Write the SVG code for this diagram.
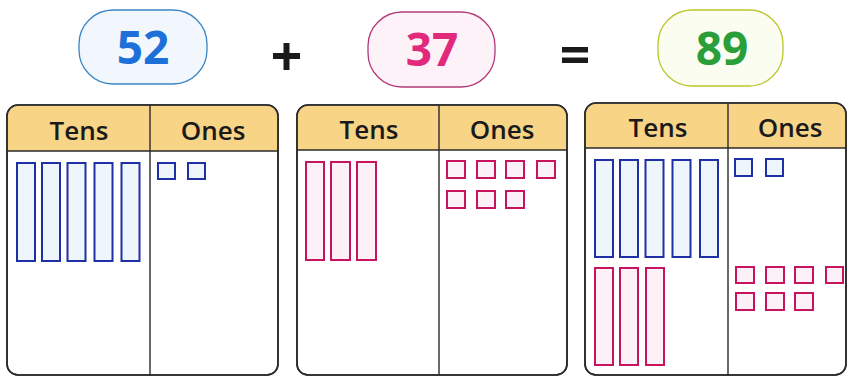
<svg xmlns="http://www.w3.org/2000/svg" width="847" height="377" viewBox="0 0 847 377">
  <style>
    .num { font-family: "Open Sans", "Noto Sans", sans-serif; font-weight: 700; font-size: 46px; text-anchor: middle; }
    .op { fill: #1a1a1a; }
    .hdr { font-family: "Open Sans", "Noto Sans", sans-serif; font-weight: 600; font-size: 26px; fill: #1a1a1a; text-anchor: middle; }
    .frame { fill: #ffffff; stroke: #2a2a2a; stroke-width: 1.6; }
    .head { fill: #f7d486; }
    .line { stroke: #2a2a2a; stroke-width: 1.4; fill: none; }
    .rod-b { fill: #eef6fc; stroke: #1f2fa6; stroke-width: 2; }
    .rod-p { fill: #fcf1f7; stroke: #c8145e; stroke-width: 2; }
  </style>

  <!-- number bubbles -->
  <g id="n52">
    <rect x="79" y="10" width="128" height="74" rx="34" fill="#f1f7fc" stroke="#3b86c4" stroke-width="1.3"/>
    <text class="num" x="143" y="64" fill="#1c70d8">52</text>
  </g>
  <g id="plus">
    <rect class="op" x="273" y="53" width="27" height="6"/>
    <rect class="op" x="283.5" y="43" width="6" height="27"/>
  </g>
  <g id="n37">
    <rect x="368" y="12" width="127" height="75" rx="34" fill="#fcf2f8" stroke="#b23a78" stroke-width="1.3"/>
    <text class="num" x="432" y="66" fill="#e22a7c">37</text>
  </g>
  <g id="equals">
    <rect class="op" x="562" y="47" width="26" height="5.5"/>
    <rect class="op" x="562" y="57.5" width="26" height="5.5"/>
  </g>
  <g id="n89">
    <rect x="658" y="10" width="125" height="76" rx="34" fill="#fbfdf1" stroke="#bcc62e" stroke-width="1.3"/>
    <text class="num" x="722" y="65" fill="#2a9e38">89</text>
  </g>

  <!-- place-value chart: 52 -->
  <g id="chart1">
    <rect class="frame" x="7" y="105" width="271" height="270" rx="11"/>
    <path class="head" d="M18,105.8 H267 A10.2,10.2 0 0 1 277.2,116 V151 H7.8 V116 A10.2,10.2 0 0 1 18,105.8 Z"/>
    <rect x="7" y="105" width="271" height="270" rx="11" fill="none" stroke="#2a2a2a" stroke-width="1.6"/>
    <line class="line" x1="7" y1="151" x2="278" y2="151"/>
    <line class="line" x1="150" y1="105" x2="150" y2="375"/>
    <text class="hdr" x="79" y="140">Tens</text>
    <text class="hdr" x="213" y="140">Ones</text>
    <rect class="rod-b" x="17" y="163" width="18" height="98"/>
    <rect class="rod-b" x="42" y="163" width="18" height="98"/>
    <rect class="rod-b" x="67.5" y="163" width="18" height="98"/>
    <rect class="rod-b" x="94.5" y="163" width="18" height="98"/>
    <rect class="rod-b" x="121.5" y="163" width="18" height="98"/>
    <rect class="rod-b" x="158" y="163" width="17" height="16"/>
    <rect class="rod-b" x="188" y="163" width="17" height="16"/>
  </g>

  <!-- place-value chart: 37 -->
  <g id="chart2">
    <rect class="frame" x="297" y="105" width="270" height="270" rx="11"/>
    <path class="head" d="M308,105.8 H556 A10.2,10.2 0 0 1 566.2,116 V150 H297.8 V116 A10.2,10.2 0 0 1 308,105.8 Z"/>
    <rect x="297" y="105" width="270" height="270" rx="11" fill="none" stroke="#2a2a2a" stroke-width="1.6"/>
    <line class="line" x1="297" y1="150" x2="567" y2="150"/>
    <line class="line" x1="439" y1="105" x2="439" y2="375"/>
    <text class="hdr" x="369" y="139">Tens</text>
    <text class="hdr" x="502" y="139">Ones</text>
    <rect class="rod-p" x="306" y="162" width="18" height="98"/>
    <rect class="rod-p" x="331" y="162" width="19" height="98"/>
    <rect class="rod-p" x="357" y="162" width="19" height="98"/>
    <rect class="rod-p" x="447" y="161" width="18" height="17"/>
    <rect class="rod-p" x="477" y="161" width="18" height="17"/>
    <rect class="rod-p" x="506" y="161" width="18" height="17"/>
    <rect class="rod-p" x="537" y="161" width="18" height="17"/>
    <rect class="rod-p" x="447" y="191" width="18" height="17"/>
    <rect class="rod-p" x="477" y="191" width="18" height="17"/>
    <rect class="rod-p" x="506" y="191" width="18" height="17"/>
  </g>

  <!-- place-value chart: 89 -->
  <g id="chart3">
    <rect class="frame" x="585" y="103" width="261" height="272" rx="11"/>
    <path class="head" d="M596,103.8 H835 A10.2,10.2 0 0 1 845.2,114 V148 H585.8 V114 A10.2,10.2 0 0 1 596,103.8 Z"/>
    <rect x="585" y="103" width="261" height="272" rx="11" fill="none" stroke="#2a2a2a" stroke-width="1.6"/>
    <line class="line" x1="585" y1="148" x2="846" y2="148"/>
    <line class="line" x1="728" y1="103" x2="728" y2="375"/>
    <text class="hdr" x="658" y="137">Tens</text>
    <text class="hdr" x="790" y="137">Ones</text>
    <rect class="rod-b" x="595" y="160" width="18" height="97"/>
    <rect class="rod-b" x="620" y="160" width="18" height="97"/>
    <rect class="rod-b" x="645.5" y="160" width="18" height="97"/>
    <rect class="rod-b" x="672.5" y="160" width="18" height="97"/>
    <rect class="rod-b" x="700" y="160" width="18" height="97"/>
    <rect class="rod-b" x="735" y="159" width="17" height="17"/>
    <rect class="rod-b" x="766" y="159" width="17" height="17"/>
    <rect class="rod-p" x="595" y="268" width="18" height="97"/>
    <rect class="rod-p" x="620" y="268" width="18" height="97"/>
    <rect class="rod-p" x="646" y="268" width="18" height="97"/>
    <rect class="rod-p" x="736" y="267" width="18" height="16"/>
    <rect class="rod-p" x="766" y="267" width="18" height="16"/>
    <rect class="rod-p" x="795" y="267" width="18" height="16"/>
    <rect class="rod-p" x="826" y="267" width="17" height="16"/>
    <rect class="rod-p" x="736" y="293" width="18" height="17"/>
    <rect class="rod-p" x="766" y="293" width="18" height="17"/>
    <rect class="rod-p" x="795" y="293" width="18" height="17"/>
  </g>
</svg>
